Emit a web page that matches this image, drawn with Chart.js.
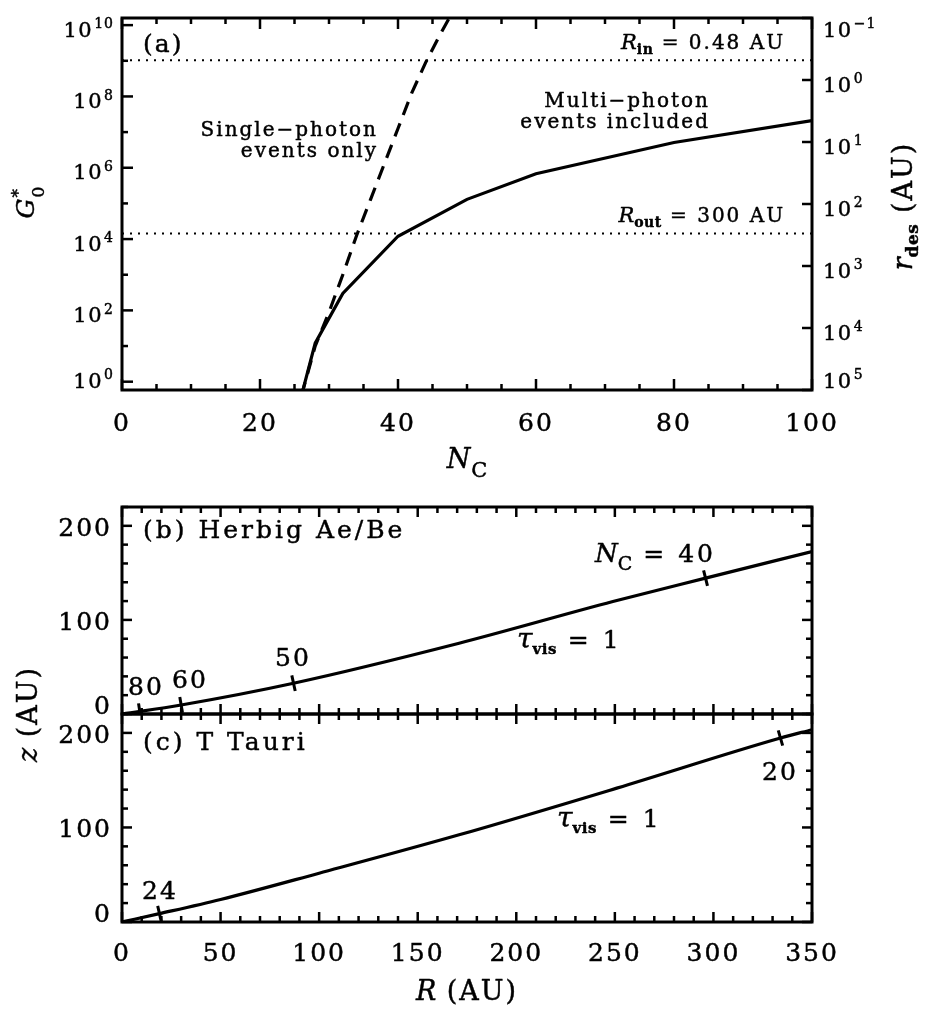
<!DOCTYPE html>
<html><head><meta charset="utf-8">
<script src="https://cdn.jsdelivr.net/npm/chart.js@4.4.1/dist/chart.umd.min.js"></script>
<style>
html,body{margin:0;padding:0;background:#fff;}
body{width:925px;height:1010px;position:relative;overflow:hidden;}
canvas{position:absolute;left:0;top:0;}
</style></head>
<body>
<canvas id="ca" width="925" height="1010"></canvas>
<canvas id="cb" width="925" height="1010"></canvas>
<canvas id="cc" width="925" height="1010"></canvas>
<script>
const FONT = '"DejaVu Serif", serif';
const STROKE = 0.45;

// ---------- panel (a): G0* vs N_C ----------
const ncMulti  = [26, 28, 32, 40, 50, 60, 80, 100];
const g0Multi  = [0.4, 12, 300, 1.2e4, 1.3e5, 6.8e5, 5.1e6, 2.1e7];
const ncSingle = [26, 28, 30, 32, 34, 36, 38, 40, 42, 44, 46, 48];
const g0Single = [0.4, 10, 89, 1.0e3, 1.26e4, 1.26e5, 1.26e6, 1.26e7, 1.26e8, 8.9e8, 5.0e9, 2.5e10];
const rInAU = 0.48, rOutAU = 300;
const ncTicks   = [0, 20, 40, 60, 80, 100];
const gExpTicks = [0, 2, 4, 6, 8, 10];
const rExpTicks = [-1, 0, 1, 2, 3, 4, 5];

// ---------- panel (b): Herbig Ae/Be ----------
const rHerbig = [0, 30, 87, 171, 249, 296, 350];
const zHerbig = [0, 9.6, 32.7, 75.2, 119.5, 144.4, 172.7];
const markRHerbig = [9, 30, 87, 296];
const markNcHerbig = ['80', '60', '50', '40'];

// ---------- panel (c): T Tauri ----------
const rTTauri = [0, 19, 50, 100, 171, 251, 334, 350];
const zTTauri = [0, 8.8, 23.8, 51.6, 92.2, 141.6, 194.6, 203.4];
const markRTTauri = [19, 334];
const markNcTTauri = ['24', '20'];

const rTicks = [0, 50, 100, 150, 200, 250, 300, 350];
const zTicks = [0, 100, 200];

// ---------- helpers ----------
function setF(ctx, s) {
  ctx.font = (s.i ? 'italic ' : '') + (s.b ? 'bold ' : '') + s.sz + 'px ' + FONT;
  ctx.letterSpacing = (s.ls ?? 0) + 'px';
}
function rich(ctx, segs, x, y, align) {
  const ws = segs.map(s => { setF(ctx, s); return s.na ? 0 : ctx.measureText(s.t).width; });
  const W = ws.reduce((a, b) => a + b, 0);
  let cx = align === 'center' ? x - W / 2 : align === 'right' ? x - W : x;
  ctx.textAlign = 'left'; ctx.textBaseline = 'alphabetic'; ctx.fillStyle = '#000';
  ctx.strokeStyle = '#000'; ctx.lineWidth = STROKE; ctx.lineJoin = 'round';
  segs.forEach((s, i) => {
    setF(ctx, s);
    const px = cx + (s.dx || 0), py = y + (s.dy || 0);
    ctx.fillText(s.t, px, py);
    ctx.strokeText(s.t, px, py);
    cx += ws[i];
  });
}
function line(ctx, x1, y1, x2, y2) { ctx.beginPath(); ctx.moveTo(x1, y1); ctx.lineTo(x2, y2); ctx.stroke(); }
function pow10(ctx, x, cy, e, align) {
  const base = {t: '10', sz: 21, ls: 1.5}, ex = {t: String(e).replace('-', '−'), sz: 14, ls: 1, dy: -8.3, dx: 1};
  rich(ctx, [base, ex], x, cy + 7.6, align);
}
function interp(xs, ys, x) {
  for (let i = 0; i < xs.length - 1; i++) {
    if (x <= xs[i + 1]) return ys[i] + (ys[i + 1] - ys[i]) * (x - xs[i]) / (xs[i + 1] - xs[i]);
  }
  return ys[ys.length - 1];
}
function curveMark(ctx, sx, sy, xs, ys, r) {
  const P = rr => [sx.getPixelForValue(rr), sy.getPixelForValue(interp(xs, ys, rr))];
  const [x0, y0] = P(r), [x1, y1] = P(Math.max(0, r - 4)), [x2, y2] = P(Math.min(350, r + 4));
  let dx = x2 - x1, dy = y2 - y1; const L = Math.hypot(dx, dy); dx /= L; dy /= L;
  const h = 8;
  line(ctx, x0 + dy * h, y0 - dx * h, x0 - dy * h, y0 + dx * h);
}
function frame(ctx, a) {
  ctx.lineWidth = 3; ctx.strokeStyle = '#000';
  ctx.strokeRect(a.left, a.top, a.right - a.left, a.bottom - a.top);
}
const noGrid = {display: false, drawTicks: false};
const noBorder = {display: false};
const setTicks = arr => s => { s.ticks = arr.map(v => ({value: v})); };
const tickFont = {padding: 18, color: '#000', font: {family: FONT, size: 25}, maxRotation: 0, autoSkip: false,
  textStrokeColor: '#000', textStrokeWidth: STROKE};

// ---------- chart (a) ----------
new Chart(document.getElementById('ca'), {
  type: 'line',
  data: {datasets: [
    {data: ncMulti.map((x, i) => ({x, y: g0Multi[i]})), yAxisID: 'y', borderColor: '#000', borderWidth: 3.2, pointRadius: 0, tension: 0},
    {data: ncSingle.map((x, i) => ({x, y: g0Single[i]})), yAxisID: 'y', borderColor: '#000', borderWidth: 3.2, borderDash: [14, 9], pointRadius: 0, tension: 0},
    {data: [{x: 0, y: rInAU}, {x: 100, y: rInAU}], yAxisID: 'y2', borderColor: '#000', borderWidth: 2, borderDash: [2, 6], pointRadius: 0},
    {data: [{x: 0, y: rOutAU}, {x: 100, y: rOutAU}], yAxisID: 'y2', borderColor: '#000', borderWidth: 2, borderDash: [2, 6], pointRadius: 0}
  ]},
  options: {
    responsive: false, animation: false, events: [],
    layout: {padding: {top: 18, left: 0, right: 0, bottom: 560}},
    plugins: {legend: {display: false}, tooltip: {enabled: false}},
    scales: {
      x: {type: 'linear', min: 0, max: 100, grid: noGrid, border: noBorder, afterBuildTicks: setTicks(ncTicks),
          ticks: Object.assign({}, tickFont, {padding: 19}), afterFit: s => { s.height = 60; }},
      y: {type: 'logarithmic', position: 'left', min: Math.pow(10, -0.233), max: Math.pow(10, 10.2), grid: noGrid, border: noBorder,
          ticks: {display: false}, afterBuildTicks: s => { s.ticks = gExpTicks.map(e => ({value: Math.pow(10, e)})); },
          afterFit: s => { s.width = 122; }},
      y2: {type: 'logarithmic', position: 'right', reverse: true, min: 0.1, max: 1e5, grid: noGrid, border: noBorder,
          ticks: {display: false}, afterBuildTicks: s => { s.ticks = rExpTicks.map(e => ({value: Math.pow(10, e)})); },
          afterFit: s => { s.width = 113; }}
    }
  },
  plugins: [{
    id: 'pa',
    beforeDraw(c) { c.ctx.letterSpacing = '2px'; },
    afterDraw(c) {
      const ctx = c.ctx, a = c.chartArea, sx = c.scales.x, sy = c.scales.y, s2 = c.scales.y2;
      ctx.save();
      ctx.strokeStyle = '#000'; ctx.lineWidth = 2.5;
      for (let v = 0; v <= 100; v += 5) {
        const px = sx.getPixelForValue(v), L = v % 20 === 0 ? 11 : 6;
        line(ctx, px, a.bottom, px, a.bottom - L); line(ctx, px, a.top, px, a.top + L);
      }
      for (let e = 0; e <= 10; e++) {
        const py = sy.getPixelForValue(Math.pow(10, e)), L = e % 2 === 0 ? 11 : 6;
        line(ctx, a.left, py, a.left + L, py);
      }
      for (const e of rExpTicks) {
        const py = s2.getPixelForValue(Math.pow(10, e));
        line(ctx, a.right, py, a.right - 10, py);
      }
      frame(ctx, a);
      for (const e of gExpTicks) {
        const py = sy.getPixelForValue(Math.pow(10, e));
        const cy = Math.min(Math.max(py + 4, a.top + 11), a.bottom - 10);
        pow10(ctx, a.left - 9, cy, e, 'right');
      }
      for (const e of rExpTicks) {
        const py = s2.getPixelForValue(Math.pow(10, e));
        const cy = Math.min(Math.max(py + 4, a.top + 11), a.bottom - 10);
        pow10(ctx, a.right + 11, cy, e, 'left');
      }
      const xc = (a.left + a.right) / 2;
      rich(ctx, [{t: 'N', i: true, sz: 27, ls: 1}, {t: 'C', sz: 21, dy: 9}], xc, 468, 'center');
      ctx.save(); ctx.translate(34, 203); ctx.rotate(-Math.PI / 2);
      rich(ctx, [{t: 'G', i: true, sz: 25}, {t: '*', sz: 17, dy: -10, na: true, dx: 1}, {t: '0', sz: 17, dy: 10, dx: 1}], 0, 0, 'center');
      ctx.restore();
      ctx.save(); ctx.translate(912, 206); ctx.rotate(-Math.PI / 2);
      rich(ctx, [{t: 'r', i: true, sz: 27}, {t: 'des', b: true, sz: 17, dy: 6, ls: 0.5}, {t: ' (AU)', sz: 27, ls: 2}], 0, 0, 'center');
      ctx.restore();
      rich(ctx, [{t: '(a)', sz: 25, ls: 2}], 143, 52, 'left');
      rich(ctx, [{t: 'R', i: true, sz: 21}, {t: 'in', b: true, sz: 14, dy: 5, ls: 0.5}, {t: ' = 0.48 AU', sz: 20, ls: 2}], 785, 49, 'right');
      rich(ctx, [{t: 'R', i: true, sz: 21}, {t: 'out', b: true, sz: 14, dy: 5, ls: 0.5}, {t: ' = 300 AU', sz: 20, ls: 2}], 785, 222, 'right');
      rich(ctx, [{t: 'Multi−photon', sz: 20, ls: 2}], 710, 107, 'right');
      rich(ctx, [{t: 'events included', sz: 20, ls: 2}], 710, 128, 'right');
      rich(ctx, [{t: 'Single−photon', sz: 20, ls: 2}], 378, 136, 'right');
      rich(ctx, [{t: 'events only', sz: 20, ls: 2}], 378, 157, 'right');
      ctx.restore();
    }
  }]
});

// ---------- shared drawing for (b) and (c) ----------
function lowerPanel(c, xsArr, ysArr, marks) {
  const ctx = c.ctx, a = c.chartArea, sx = c.scales.x, sy = c.scales.y;
  ctx.save();
  ctx.strokeStyle = '#000'; ctx.lineWidth = 2.5;
  for (let v = 0; v <= 350; v += 10) {
    const px = sx.getPixelForValue(v), L = v % 50 === 0 ? 10 : 6;
    line(ctx, px, a.bottom, px, a.bottom - L); line(ctx, px, a.top, px, a.top + L);
  }
  for (let v = 0; v <= 220; v += 20) {
    const py = sy.getPixelForValue(v), L = v % 100 === 0 ? 10 : 6;
    line(ctx, a.left, py, a.left + L, py); line(ctx, a.right, py, a.right - L, py);
  }
  ctx.lineWidth = 3;
  ctx.save(); ctx.beginPath(); ctx.rect(a.left, a.top, a.right - a.left, a.bottom - a.top); ctx.clip();
  for (const r of marks) curveMark(ctx, sx, sy, xsArr, ysArr, r);
  ctx.restore();
  frame(ctx, a);
  for (const v of zTicks) {
    const py = sy.getPixelForValue(v);
    const cy = Math.min(py + 1, a.bottom - 9);
    rich(ctx, [{t: String(v), sz: 25, ls: 2}], a.left - 10, cy + 9, 'right');
  }
  ctx.restore();
}
function lowerOptions(padTop, padBottom, showX) {
  return {
    responsive: false, animation: false, events: [],
    layout: {padding: {top: padTop, left: 0, right: 113, bottom: padBottom}},
    plugins: {legend: {display: false}, tooltip: {enabled: false}},
    scales: {
      x: {type: 'linear', min: 0, max: 350, grid: noGrid, border: noBorder, afterBuildTicks: setTicks(rTicks),
          ticks: Object.assign({}, tickFont, {display: showX, padding: 17}), afterFit: s => { s.height = 60; }},
      y: {type: 'linear', min: 0, max: 220, grid: noGrid, border: noBorder, afterBuildTicks: setTicks(zTicks),
          ticks: {display: false}, afterFit: s => { s.width = 122; }}
    }
  };
}

// ---------- chart (b) ----------
new Chart(document.getElementById('cb'), {
  type: 'line',
  data: {datasets: [{data: rHerbig.map((x, i) => ({x, y: zHerbig[i]})), borderColor: '#000', borderWidth: 3.2,
    pointRadius: 0, cubicInterpolationMode: 'monotone'}]},
  options: lowerOptions(507, 1010 - 714 - 60, false),
  plugins: [{
    id: 'pb',
    beforeDraw(c) { c.ctx.letterSpacing = '2px'; },
    afterDraw(c) {
      lowerPanel(c, rHerbig, zHerbig, markRHerbig);
      const ctx = c.ctx; ctx.save();
      rich(ctx, [{t: '(b) Herbig Ae/Be', sz: 25, ls: 3}], 143, 538, 'left');
      rich(ctx, [{t: markNcHerbig[0], sz: 25, ls: 2}], 128, 695, 'left');
      rich(ctx, [{t: markNcHerbig[1], sz: 25, ls: 2}], 172, 688, 'left');
      rich(ctx, [{t: markNcHerbig[2], sz: 25, ls: 2}], 275, 666, 'left');
      rich(ctx, [{t: 'N', i: true, sz: 26}, {t: 'C', sz: 19, dy: 8}, {t: ' = ' + markNcHerbig[3], sz: 25, ls: 3}], 595, 562, 'left');
      rich(ctx, [{t: 'τ', i: true, sz: 28}, {t: 'vis', b: true, sz: 15, dy: 6, ls: 0.5}, {t: ' = 1', sz: 25, ls: 3}], 517, 648, 'left');
      ctx.restore();
    }
  }]
});

// ---------- chart (c) ----------
new Chart(document.getElementById('cc'), {
  type: 'line',
  data: {datasets: [{data: rTTauri.map((x, i) => ({x, y: zTTauri[i]})), borderColor: '#000', borderWidth: 3.2,
    pointRadius: 0, cubicInterpolationMode: 'monotone'}]},
  options: lowerOptions(714, 1010 - 922 - 60, true),
  plugins: [{
    id: 'pc',
    beforeDraw(c) { c.ctx.letterSpacing = '2px'; },
    afterDraw(c) {
      lowerPanel(c, rTTauri, zTTauri, markRTTauri);
      const ctx = c.ctx, a = c.chartArea; ctx.save();
      rich(ctx, [{t: '(c) T Tauri', sz: 25, ls: 3}], 143, 750, 'left');
      rich(ctx, [{t: markNcTTauri[0], sz: 25, ls: 2}], 142, 899, 'left');
      rich(ctx, [{t: markNcTTauri[1], sz: 25, ls: 2}], 762, 780, 'left');
      rich(ctx, [{t: 'τ', i: true, sz: 28}, {t: 'vis', b: true, sz: 15, dy: 6, ls: 0.5}, {t: ' = 1', sz: 25, ls: 3}], 557, 827, 'left');
      rich(ctx, [{t: 'R', i: true, sz: 27}, {t: ' (AU)', sz: 27, ls: 2}], (a.left + a.right) / 2, 1000, 'center');
      ctx.save(); ctx.translate(37, 714); ctx.rotate(-Math.PI / 2);
      rich(ctx, [{t: 'z', i: true, sz: 27}, {t: ' (AU)', sz: 27, ls: 2}], 0, 0, 'center');
      ctx.restore();
      ctx.restore();
    }
  }]
});
</script>
</body></html>
